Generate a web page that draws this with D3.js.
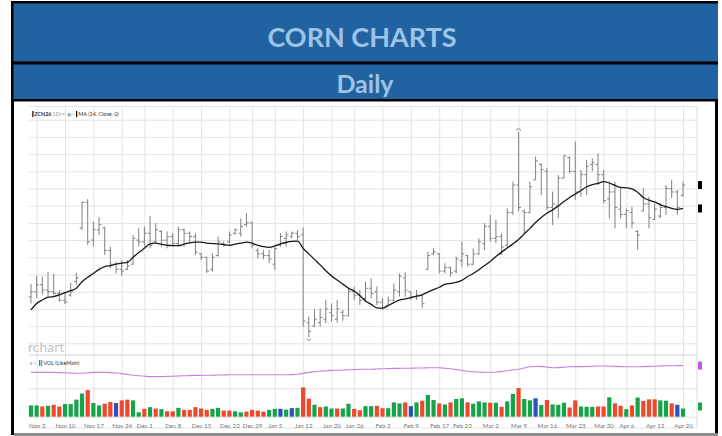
<!DOCTYPE html>
<html>
<head>
<meta charset="utf-8">
<script src="https://cdn.jsdelivr.net/npm/d3@7"></script>
<style>
  body { margin: 0; background: #fff; }
  svg { display: block; }
</style>
</head>
<body>
<div id="chart"></div>
<script>
const width = 722;
const height = 436;

// date axis: index of the trading day that carries each label (Oct 31 is bar 0)
const tickLabels = ["Nov 3", "Nov 10", "Nov 17", "Nov 24", "Dec 1", "Dec 8", "Dec 15", "Dec 22", "Dec 29", "Jan 5",
  "Jan 12", "Jan 20", "Jan 26", "Feb 2", "Feb 9", "Feb 17", "Feb 23", "Mar 2", "Mar 9", "Mar 16",
  "Mar 23", "Mar 30", "Apr 6", "Apr 13", "Apr 20"];
const tickIndex = [1, 6, 11, 16, 20, 25, 30, 35, 39, 43, 48, 53, 57, 62, 67, 72, 76, 81, 86, 91, 96, 101, 105, 110, 115];

// ZCN26 daily bars, cents
const opens = [453.5, 455, 457, 455.5, 455, 454.5, 452.5, 454, 458, 473.5,
  481, 470, 473, 473.5, 467, 463, 461.5, 461.5, 463, 470,
  469.5, 472, 469.5, 472.5, 470, 471, 469, 473, 472, 471,
  466, 465, 461.5, 465.5, 469, 469.5, 472, 472, 474.5, 475,
  467, 466, 465.5, 463, 468.5, 470.5, 471, 472, 471.5, 446,
  445, 446, 447, 449, 447, 449, 448, 455, 454, 453,
  456, 455, 452, 451, 452.5, 455, 459, 455, 453.5, 454,
  461.5, 466, 466, 461, 462, 461, 464, 465.5, 463, 466,
  469, 474, 470.5, 471, 468.5, 478, 486, 478.5, 478, 487.5,
  492, 490, 479.5, 480, 488, 494, 490, 484, 489, 492,
  492, 489, 482, 484, 479, 477.5, 478, 472.5, 478.5, 480.5,
  476, 477, 479.5, 485, 484, 483];
const highs = [457.2, 459.6, 459.4, 460.8, 460.2, 455.5, 455.0, 457.6, 460.5, 481.2,
  481.9, 475.4, 476.6, 473.9, 468.1, 463.7, 464.2, 464.2, 471.5, 473.4,
  473.9, 477.0, 474.9, 472.9, 472.5, 472.0, 473.9, 473.4, 472.5, 472.0,
  466.2, 465.2, 466.2, 471.0, 469.6, 472.5, 473.4, 476.3, 477.8, 475.4,
  467.6, 467.1, 467.1, 468.1, 472.0, 472.5, 472.5, 472.9, 473.6, 447.8,
  449.9, 450.2, 452.6, 451.6, 452.6, 449.7, 456.0, 456.5, 455.5, 457.9,
  458.9, 456.5, 453.1, 453.6, 457.4, 460.3, 460.8, 455.0, 455.5, 454.1,
  466.6, 467.6, 466.2, 463.3, 462.3, 465.2, 469.6, 465.7, 467.6, 470.5,
  474.9, 477.3, 475.9, 472.0, 479.2, 487.0, 501.5, 478.8, 487.0, 494.3,
  492.3, 490.9, 484.1, 488.9, 494.7, 494.3, 498.6, 490.4, 493.3, 493.8,
  495.2, 490.4, 487.0, 487.0, 485.1, 479.2, 479.7, 472.9, 485.1, 482.6,
  480.7, 480.7, 486.0, 487.5, 484.6, 487.0];
const lows = [451.6, 453.1, 454.1, 453.6, 454.1, 452.1, 451.4, 453.6, 457.0, 472.9,
  468.6, 468.1, 471.5, 465.7, 461.8, 460.3, 459.6, 461.3, 462.8, 468.1,
  468.1, 467.6, 469.1, 468.1, 467.6, 468.1, 468.1, 468.1, 469.1, 465.7,
  464.2, 460.5, 460.8, 465.2, 468.1, 469.1, 471.5, 471.0, 473.9, 467.6,
  464.7, 464.4, 463.3, 461.3, 468.1, 468.1, 470.5, 470.0, 444.8, 441.7,
  444.7, 444.8, 445.8, 446.3, 446.0, 446.6, 447.8, 452.6, 451.1, 452.1,
  453.1, 451.1, 449.7, 450.7, 452.1, 453.6, 453.6, 452.6, 452.6, 450.2,
  461.3, 465.7, 460.3, 460.3, 459.4, 460.3, 462.3, 462.3, 462.8, 465.7,
  467.1, 469.6, 469.1, 465.7, 468.1, 477.3, 478.3, 471.5, 477.8, 487.5,
  483.1, 478.8, 474.4, 476.3, 488.0, 489.4, 481.7, 482.6, 483.1, 489.9,
  486.0, 480.7, 476.3, 473.4, 476.3, 473.4, 473.4, 467.1, 478.3, 473.4,
  475.9, 476.3, 477.3, 482.2, 477.3, 482.6];
const closes = [455, 457, 455.5, 455, 454.5, 452.5, 452, 455, 459, 481,
  469.5, 473, 474.5, 467, 463, 461.5, 461, 462.5, 470.5, 469.5,
  472, 468.5, 473, 470, 471, 469, 473, 472, 471, 466.5,
  465, 461, 465, 469.5, 468.5, 471.5, 473, 474, 475, 468.5,
  466, 465.5, 464.5, 467.5, 471, 471.5, 472, 471, 446.5, 443.5,
  447, 447.5, 450, 448, 450, 448, 455, 454, 452.5, 456,
  454.5, 452, 450.5, 452.5, 455.5, 459.5, 455.5, 453.5, 454, 451.5,
  465.5, 466.5, 461, 462, 460.5, 464.5, 466, 463, 466, 469.5,
  474, 470.5, 471, 468, 478, 486, 479.5, 478, 485.5, 493,
  490.5, 479.5, 480.5, 488, 494.5, 490, 484, 489, 491.5, 492.5,
  489, 481.5, 484, 479.5, 477.5, 478.5, 475, 471.5, 480.5, 476.5,
  479, 479.5, 485, 484, 479.5, 486];

// MA (14, Close, 0) as drawn on the chart
const maValues = [449.7, 451.6, 452.6, 453.4, 453.6, 454.1, 454.7, 455.3, 456.0, 457.9,
  459.2, 460.3, 461.5, 462.3, 462.6, 463.0, 463.3, 463.5, 465.0, 466.4,
  467.6, 468.9, 469.1, 468.8, 468.5, 468.4, 468.4, 468.8, 469.2, 469.4,
  469.4, 469.1, 469.0, 468.9, 468.7, 468.5, 468.8, 469.1, 469.4, 469.1,
  468.5, 468.1, 467.9, 468.3, 468.9, 469.3, 469.6, 469.7, 467.6, 466.0,
  464.4, 462.8, 461.1, 459.6, 458.4, 457.2, 456.0, 455.2, 453.9, 452.3,
  451.3, 450.3, 450.2, 451.0, 451.8, 452.6, 452.9, 453.3, 453.7, 454.1,
  454.9, 455.6, 456.3, 457.1, 457.4, 457.7, 458.3, 459.4, 460.3, 461.4,
  462.6, 463.8, 465.2, 466.5, 467.7, 468.9, 470.2, 471.8, 473.4, 475.1,
  476.6, 477.8, 478.8, 479.9, 481.2, 482.4, 483.4, 484.4, 485.5, 486.1,
  486.5, 487.0, 486.6, 485.9, 485.3, 485.2, 484.9, 483.9, 482.4, 481.6,
  481.1, 480.3, 479.7, 479.2, 478.9, 479.2];

// volume, thousands of contracts; g = up, r = down, b = unchanged
const volumes = [99, 99, 90, 96, 105, 90, 111, 111, 150, 204,
  234, 120, 99, 114, 129, 120, 144, 150, 144, 39,
  69, 84, 72, 66, 48, 48, 78, 60, 60, 84,
  72, 60, 69, 78, 54, 54, 48, 39, 45, 60,
  54, 45, 60, 69, 69, 63, 75, 78, 258, 159,
  105, 84, 90, 72, 72, 72, 114, 69, 57, 93,
  93, 96, 75, 75, 126, 117, 126, 93, 126, 141,
  192, 147, 117, 108, 126, 156, 162, 126, 114, 135,
  126, 123, 123, 87, 135, 201, 252, 156, 144, 162,
  102, 147, 108, 105, 123, 81, 144, 90, 87, 87,
  90, 90, 171, 117, 96, 66, 99, 168, 138, 153,
  153, 144, 141, 117, 105, 72];
const volColors = ["g", "g", "r", "g", "r", "r", "g", "g", "g", "g",
  "r", "g", "g", "r", "r", "b", "r", "r", "g", "g",
  "r", "g", "r", "g", "r", "r", "g", "r", "r", "r",
  "r", "r", "g", "g", "r", "r", "g", "g", "r", "r",
  "r", "r", "g", "g", "b", "g", "b", "g", "r", "r",
  "g", "r", "g", "g", "r", "g", "g", "r", "r", "g",
  "g", "r", "r", "g", "g", "g", "r", "b", "g", "r",
  "g", "g", "r", "g", "r", "g", "g", "r", "g", "g",
  "g", "r", "g", "r", "g", "g", "r", "g", "g", "b",
  "g", "r", "g", "g", "g", "r", "r", "g", "g", "g",
  "r", "r", "g", "r", "r", "g", "r", "g", "r", "r",
  "r", "g", "g", "r", "b", "g"];

// open interest, thousands
const openInterest = [418, 418, 418, 418, 418, 417, 416, 415, 414, 414,
  416, 418, 418, 418, 417, 415, 412, 408, 404, 401,
  399, 397, 397, 397, 398, 399, 400, 401, 402, 403,
  403, 404, 404, 405, 405, 406, 406, 406, 406, 406,
  406, 406, 406, 406, 406, 406, 407, 409, 413, 418,
  422, 424, 426, 428, 429, 430, 431, 432, 433, 434,
  434, 435, 436, 437, 438, 438, 439, 439, 440, 440,
  441, 441, 441, 439, 436, 432, 428, 424, 421, 420,
  419, 419, 420, 422, 426, 430, 434, 440, 446, 449,
  448, 445, 441, 442, 444, 446, 447, 447, 448, 449,
  450, 450, 449, 448, 447, 446, 446, 446, 447, 448,
  449, 450, 451, 451, 452, 452];

const colorMap = { g: "#14a54a", r: "#f0482c", b: "#2a52b8" };

const svg = d3.select("#chart").append("svg")
  .attr("width", width)
  .attr("height", height);

// frame + header bands
svg.append("rect").attr("x", 11).attr("y", 1).attr("width", 707).attr("height", 434).attr("fill", "#000");
svg.append("rect").attr("x", 13.5).attr("y", 3.5).attr("width", 704.5).attr("height", 58).attr("fill", "#2162a1");
svg.append("rect").attr("x", 13.5).attr("y", 64.5).attr("width", 704.5).attr("height", 34.5).attr("fill", "#2162a1");
svg.append("rect").attr("x", 14).attr("y", 101.5).attr("width", 701).attr("height", 331.5).attr("fill", "#fff");
svg.append("rect").attr("x", 14).attr("y", 433).attr("width", 704).attr("height", 3).attr("fill", "#8c8c8c");

svg.append("text")
  .attr("x", 362).attr("y", 46.5)
  .attr("text-anchor", "middle")
  .attr("font-family", "Lato")
  .attr("font-weight", "bold")
  .attr("font-size", 27)
  .attr("fill", "#9dc3e6")
  .text("CORN CHARTS");
svg.append("text")
  .attr("x", 365).attr("y", 93)
  .attr("text-anchor", "middle")
  .attr("font-family", "Lato")
  .attr("font-weight", "bold")
  .attr("font-size", 25)
  .attr("fill", "#9dc3e6")
  .text("Daily");

// chart geometry
const plotLeft = 29, plotRight = 697;
const priceTop = 106.5, priceBottom = 355;
const volBase = 416.7;

const x = d3.scaleLinear().domain([0, 115]).range([31, 683]);
const y = d3.scaleLinear().domain([440, 505]).range([343.3, 119.7]);
const yVol = d3.scaleLinear().domain([0, 250]).range([volBase, 388.3]);
const yOI = d3.scaleLinear().domain([380, 480]).range([380, 360]);

const g = svg.append("g");

// vertical grid from the date ticks
g.append("g")
  .attr("transform", `translate(0,${volBase})`)
  .call(d3.axisBottom(x).tickValues(tickIndex).tickSize(-(volBase - priceTop)).tickFormat(""))
  .call(a => a.select(".domain").remove())
  .call(a => a.selectAll("line").attr("stroke", "#e4e4e4"));

// price grid
g.append("g")
  .attr("transform", `translate(${plotLeft},0)`)
  .call(d3.axisLeft(y).tickValues(d3.range(440, 506, 5)).tickSize(-(plotRight - plotLeft)).tickFormat(""))
  .call(a => a.select(".domain").remove())
  .call(a => a.selectAll("line").attr("stroke", "#e4e4e4"));

// volume grid
g.append("g")
  .attr("transform", `translate(${plotLeft},0)`)
  .call(d3.axisLeft(yVol).tickValues([0, 250]).tickSize(-(plotRight - plotLeft)).tickFormat(""))
  .call(a => a.select(".domain").remove())
  .call(a => a.selectAll("line").attr("stroke", "#e0e0e0"));

// panel borders
g.append("line").attr("x1", plotLeft).attr("x2", plotRight).attr("y1", priceTop).attr("y2", priceTop).attr("stroke", "#e4e4e4");
g.append("line").attr("x1", plotLeft).attr("x2", plotRight).attr("y1", priceBottom).attr("y2", priceBottom).attr("stroke", "#cfcfcf");
g.append("line").attr("x1", plotLeft).attr("x2", plotRight).attr("y1", 428).attr("y2", 428).attr("stroke", "#e4e4e4");
g.append("line").attr("x1", plotRight).attr("x2", plotRight).attr("y1", priceTop).attr("y2", 428).attr("stroke", "#dcdcdc");

// watermark
g.append("text")
  .attr("x", 28).attr("y", 351.5)
  .attr("font-family", "Lato")
  .attr("font-size", 14)
  .attr("fill", "#c4c4c4")
  .text("rchart");

// OHLC bars
const bars = g.append("g").attr("stroke", "#808080").attr("stroke-width", 1);
bars.selectAll("g")
  .data(d3.range(closes.length))
  .join("g")
  .each(function(i) {
    const s = d3.select(this);
    const cx = x(i);
    s.append("line").attr("x1", cx).attr("x2", cx).attr("y1", y(highs[i])).attr("y2", y(lows[i]));
    s.append("line").attr("x1", cx - 2.3).attr("x2", cx).attr("y1", y(opens[i])).attr("y2", y(opens[i]));
    s.append("line").attr("x1", cx).attr("x2", cx + 2.3).attr("y1", y(closes[i])).attr("y2", y(closes[i]));
  });

// high / low markers
const hiIdx = d3.maxIndex(highs), loIdx = d3.minIndex(lows);
g.append("path")
  .attr("d", `M${x(hiIdx) - 2},${y(highs[hiIdx]) - 1} a2,2 0 0 1 4,0`)
  .attr("fill", "none").attr("stroke", "#777").attr("stroke-width", 0.8);
g.append("path")
  .attr("d", `M${x(loIdx) - 2},${y(lows[loIdx]) + 1} a2,2 0 0 0 4,0`)
  .attr("fill", "none").attr("stroke", "#777").attr("stroke-width", 0.8);

// moving average
g.append("path")
  .datum(maValues)
  .attr("d", d3.line().x((d, i) => x(i)).y(d => y(d)).curve(d3.curveMonotoneX))
  .attr("fill", "none")
  .attr("stroke", "#1a1a1a")
  .attr("stroke-width", 1.3);

// volume bars
g.append("g").selectAll("rect")
  .data(volumes)
  .join("rect")
  .attr("x", (d, i) => x(i) - 2.1)
  .attr("width", 4.2)
  .attr("y", d => yVol(d))
  .attr("height", d => volBase - yVol(d))
  .attr("fill", (d, i) => colorMap[volColors[i]]);

// open interest
g.append("path")
  .datum(openInterest)
  .attr("d", d3.line().x((d, i) => x(i)).y(d => yOI(d)).curve(d3.curveMonotoneX))
  .attr("fill", "none")
  .attr("stroke", "#cc7fe0")
  .attr("stroke-width", 1.1);

// date labels
g.append("g")
  .attr("transform", `translate(0,${volBase + 3.5})`)
  .call(d3.axisBottom(x).tickValues(tickIndex).tickSize(0)
    .tickFormat((d, i) => tickLabels[i]))
  .call(a => a.select(".domain").remove())
  .call(a => a.selectAll("text")
    .attr("font-family", "Lato")
    .attr("font-size", 6.2)
    .attr("fill", "#777"));

// cropped right-hand value tags
const tags = [
  { y: y(closes[closes.length - 1]), c: "#000" },
  { y: y(maValues[maValues.length - 1]), c: "#000" },
  { y: yOI(openInterest[openInterest.length - 1]), c: "#c05ad6" },
  { y: yVol(volumes[volumes.length - 1]) - 2, c: "#14a54a" }
];
g.selectAll(".tag")
  .data(tags)
  .join("rect")
  .attr("class", "tag")
  .attr("x", 698).attr("width", 4)
  .attr("y", d => d.y - 4).attr("height", 8)
  .attr("fill", d => d.c);

// legends, each piece placed on its own so nothing runs together
const legFont = { "font-family": "Lato", "font-size": 5.4 };
function legText(xPos, yPos, str, fill, weight) {
  const t = g.append("text").attr("x", xPos).attr("y", yPos).attr("fill", fill).text(str);
  Object.entries(legFont).forEach(([k, v]) => t.attr(k, v));
  if (weight) t.attr("font-weight", weight);
  return t;
}
legText(29.5, 115.8, "-", "#999");
g.append("rect").attr("x", 32.3).attr("y", 111).attr("width", 1.2).attr("height", 6).attr("fill", "#000");
legText(34.3, 115.8, "ZCN26", "#333", "bold");
legText(50.5, 115.8, "-1Dr-", "#999");
legText(62.3, 115.8, "\u00d7", "#999");
legText(66.5, 115.8, "\u25c9", "#999");
legText(71.6, 115.8, "\u00b7\u00b7", "#999");
g.append("rect").attr("x", 76).attr("y", 111).attr("width", 1.2).attr("height", 6).attr("fill", "#000");
legText(78.3, 115.8, "MA (14, Close, 0)", "#333");

legText(29.5, 365.2, "a \u00b7\u00b7", "#999");
g.append("rect").attr("x", 39).attr("y", 360).attr("width", 1.4).attr("height", 6).attr("fill", "#14a54a");
g.append("rect").attr("x", 41).attr("y", 360).attr("width", 1.4).attr("height", 6).attr("fill", "#cc7fe0");
legText(43.5, 365.2, "VOL (LikeMain)", "#333");
</script>
</body>
</html>
